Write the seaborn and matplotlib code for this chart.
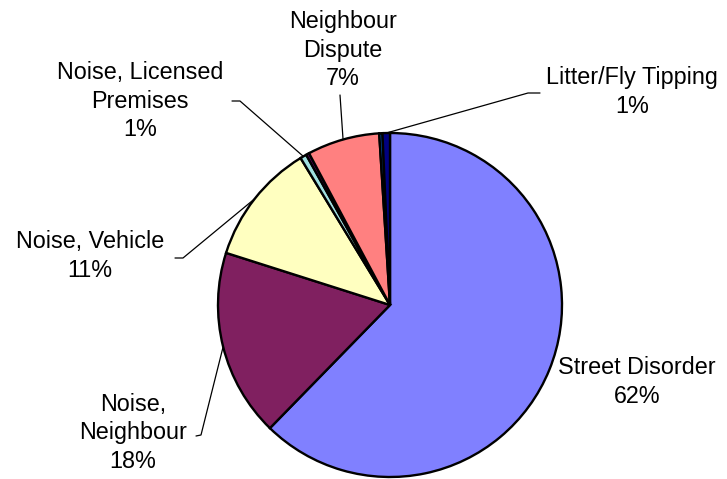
import numpy as np
import matplotlib
matplotlib.use("Agg")
import matplotlib.pyplot as plt
import seaborn as sns

# slices, clockwise from 12 o'clock (blank names = unlabelled slivers)
categories = ["Street Disorder", "Noise, Neighbour", "Noise, Vehicle",
              "Noise, Licensed Premises", "", "Neighbour Dispute", "",
              "Litter/Fly Tipping"]
values = [62.3, 17.6, 11.4, 0.6, 0.3, 6.8, 0.3, 0.7]
colors = ["#8080FF", "#802060", "#FFFFC0", "#A0E0E0", "#600060",
          "#FF8080", "#0060C0", "#000080"]
label_text = ["Street Disorder", "Noise,\nNeighbour", "Noise, Vehicle",
              "Noise, Licensed\nPremises", "", "Neighbour\nDispute", "",
              "Litter/Fly Tipping"]

sns.set_theme(style="white")
plt.rcParams['font.family'] = ['Liberation Sans', 'DejaVu Sans']

W, H = 727, 479
fig = plt.figure(figsize=(W / 100, H / 100), dpi=100)
ax = fig.add_axes([0, 0, 1, 1])

cx, cy, R = 390, H - 305, 172
wedges, _ = ax.pie(values, colors=colors, startangle=90, counterclock=False,
                   center=(cx, cy), radius=R, frame=True,
                   wedgeprops=dict(edgecolor='black', linewidth=1.7))
ax.set_xlim(0, W)
ax.set_ylim(0, H)
ax.axis('off')


def img(x, y):
    return x, H - y


# label layout: text centre, leader elbow, leader end (image px)
layout = {
    "Street Disorder": dict(text=(637, 382), line=None),
    "Noise, Neighbour": dict(text=(133, 433), line=[(196, 436), (201, 435)]),
    "Noise, Vehicle": dict(text=(90, 256), line=[(175, 258), (183, 258)]),
    "Noise, Licensed Premises": dict(text=(140, 101), line=[(232, 101), (240, 101)]),
    "Neighbour Dispute": dict(text=(343, 50), line=[(340, 95)]),
    "Litter/Fly Tipping": dict(text=(632, 92), line=[(540, 93), (528, 93)]),
}

fs = 16.8
for w, name, lab, v in zip(wedges, categories, label_text, values):
    if not name:
        continue
    lay = layout[name]
    tx, ty = img(*lay["text"])
    bbox = dict(facecolor='white', edgecolor='none', pad=1) if name == "Street Disorder" else None
    ax.text(tx, ty, f"{lab}\n{round(v)}%", ha='center', va='center',
            fontsize=fs, color='black', linespacing=1.3, bbox=bbox, zorder=5)
    if lay["line"]:
        mid = np.deg2rad((w.theta1 + w.theta2) / 2)
        ex, ey = cx + R * np.cos(mid), cy + R * np.sin(mid)
        pts = [img(*p) for p in lay["line"]] + [(ex, ey)]
        xs, ys = zip(*pts)
        ax.plot(xs, ys, color='black', linewidth=0.9, zorder=4)

fig.savefig("out.png", dpi=100)
